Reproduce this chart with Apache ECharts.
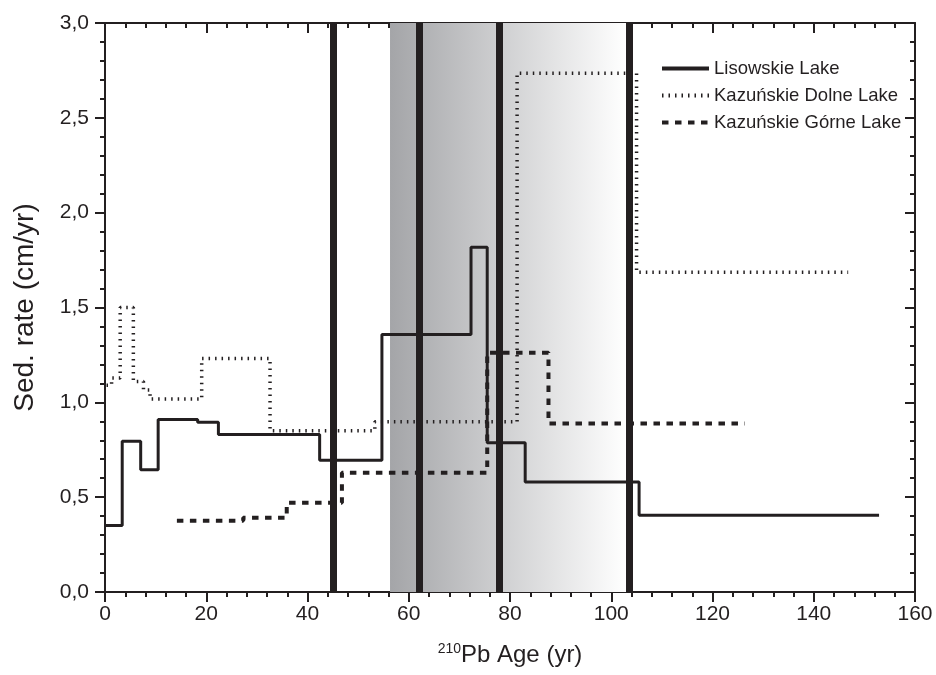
<!DOCTYPE html>
<html>
<head>
<meta charset="utf-8">
<title>Sed. rate</title>
<script src="https://cdn.jsdelivr.net/npm/echarts@6/dist/echarts.min.js"></script>
<style>
  html, body { margin: 0; padding: 0; background: #fff; }
  #chart { width: 936px; height: 675px; }
</style>
</head>
<body>
<div id="chart"></div>
<script>
// step series: each value holds from its age until the next age
const lisowskieAge  = [0.2, 3.4, 7.05, 10.5, 18.3, 22.4, 42.4, 54.7, 72.3, 75.5, 83.0, 105.5, 152.9];
const lisowskieRate = [0.35, 0.795, 0.645, 0.91, 0.895, 0.83, 0.695, 1.357, 1.818, 0.787, 0.58, 0.404, 0.404];

const dolneAge  = [0.3, 1.3, 3.0, 5.6, 7.6, 8.9, 19.1, 32.6, 53.3, 81.4, 105.0, 146.8];
const dolneRate = [1.09, 1.128, 1.5, 1.11, 1.065, 1.017, 1.231, 0.85, 0.897, 2.735, 1.686, 1.686];

const gorneAge  = [14.2, 27.3, 35.9, 46.8, 75.5, 87.6, 126.4];
const gorneRate = [0.376, 0.391, 0.47, 0.629, 1.261, 0.889, 0.889];

// thick vertical markers and the shaded age band
const markerAges = [45.0, 62.1, 77.9, 103.6];
const bandAges = [56.3, 103.0];

const seriesNames = ['Lisowskie Lake', 'Kazuńskie Dolne Lake', 'Kazuńskie Górne Lake'];

const ink = '#231f20';
const font = 'Liberation Sans, Arial, sans-serif';

function pairs(xs, ys) {
  return xs.map((x, i) => [x, ys[i]]);
}

function comma(v) {
  return v.toFixed(1).replace('.', ',');
}

const chart = echarts.init(document.getElementById('chart'));

const baseX = {
  type: 'value',
  min: 0,
  max: 160,
  interval: 20,
  axisLine: { show: true, onZero: false, lineStyle: { color: ink, width: 2 } },
  splitLine: { show: false },
  minorTick: { show: true, splitNumber: 5, length: 5, lineStyle: { color: ink, width: 2 } },
  axisTick: { show: true, length: 10, lineStyle: { color: ink, width: 2 } }
};

const baseY = {
  type: 'value',
  min: 0,
  max: 3,
  interval: 0.5,
  axisLine: { show: true, onZero: false, lineStyle: { color: ink, width: 2 } },
  splitLine: { show: false },
  minorTick: { show: true, splitNumber: 5, length: 5, lineStyle: { color: ink, width: 2 } },
  axisTick: { show: true, length: 10, lineStyle: { color: ink, width: 2 } }
};

const option = {
  animation: false,
  backgroundColor: '#fff',
  textStyle: { fontFamily: font },
  grid: { left: 105, right: 21, top: 23, bottom: 83 },
  legend: {
    data: seriesNames,
    orient: 'vertical',
    left: 655,
    top: 54,
    itemWidth: 47,
    itemHeight: 14,
    itemGap: 8,
    itemStyle: { opacity: 0 },
    lineStyle: { width: 4 },
    textStyle: { fontSize: 18.5, color: ink, fontFamily: font }
  },
  xAxis: [
    Object.assign({}, baseX, {
      position: 'bottom',
      axisLabel: { fontSize: 21, color: ink, margin: 12, fontFamily: font },
      name: '{sup|210}{b|Pb Age (yr)}',
      nameLocation: 'middle',
      nameGap: 50,
      nameTextStyle: {
        rich: {
          sup: { fontSize: 14, color: ink, fontFamily: font, verticalAlign: 'top', lineHeight: 26 },
          b: { fontSize: 24, color: ink, fontFamily: font, lineHeight: 26 }
        }
      }
    }),
    Object.assign({}, baseX, {
      position: 'top',
      axisLabel: { show: false },
      axisTick: { show: true, inside: true, length: 10, lineStyle: { color: ink, width: 2 } },
      minorTick: { show: true, splitNumber: 5, length: 5, lineStyle: { color: ink, width: 2 } }
    })
  ],
  yAxis: [
    Object.assign({}, baseY, {
      position: 'left',
      axisLabel: { fontSize: 21, color: ink, margin: 16, fontFamily: font, formatter: comma },
      name: 'Sed. rate (cm/yr)',
      nameLocation: 'middle',
      nameGap: 66,
      nameTextStyle: { fontSize: 28, color: ink, fontFamily: font }
    }),
    Object.assign({}, baseY, {
      position: 'right',
      axisLabel: { show: false },
      axisTick: { show: true, inside: true, length: 10, lineStyle: { color: ink, width: 2 } },
      minorTick: { show: true, splitNumber: 5, length: 5, lineStyle: { color: ink, width: 2 } }
    })
  ],
  series: [
    {
      // carries the gradient band and the vertical markers
      name: 'band',
      type: 'line',
      data: [],
      z: 1,
      silent: true,
      markArea: {
        silent: true,
        itemStyle: {
          color: new echarts.graphic.LinearGradient(0, 0, 1, 0, [
            { offset: 0, color: '#a4a5a8' },
            { offset: 1, color: '#ffffff' }
          ])
        },
        data: [[{ xAxis: bandAges[0] }, { xAxis: bandAges[1] }]]
      },
      markLine: {
        silent: true,
        symbol: ['none', 'none'],
        label: { show: false },
        lineStyle: { color: ink, width: 7, type: 'solid' },
        data: markerAges.map(a => ({ xAxis: a }))
      }
    },
    {
      name: seriesNames[0],
      type: 'line',
      step: 'end',
      symbol: 'none',
      z: 3,
      lineStyle: { color: ink, width: 3, type: 'solid' },
      itemStyle: { color: ink },
      data: pairs(lisowskieAge, lisowskieRate)
    },
    {
      name: seriesNames[1],
      type: 'line',
      step: 'end',
      symbol: 'none',
      z: 3,
      lineStyle: { color: ink, width: 3.5, type: [1.5, 5] },
      itemStyle: { color: ink },
      data: pairs(dolneAge, dolneRate)
    },
    {
      name: seriesNames[2],
      type: 'line',
      step: 'end',
      symbol: 'none',
      z: 3,
      lineStyle: { color: ink, width: 4, type: [6.5, 6.5] },
      itemStyle: { color: ink },
      data: pairs(gorneAge, gorneRate)
    }
  ]
};

chart.setOption(option);
</script>
</body>
</html>
